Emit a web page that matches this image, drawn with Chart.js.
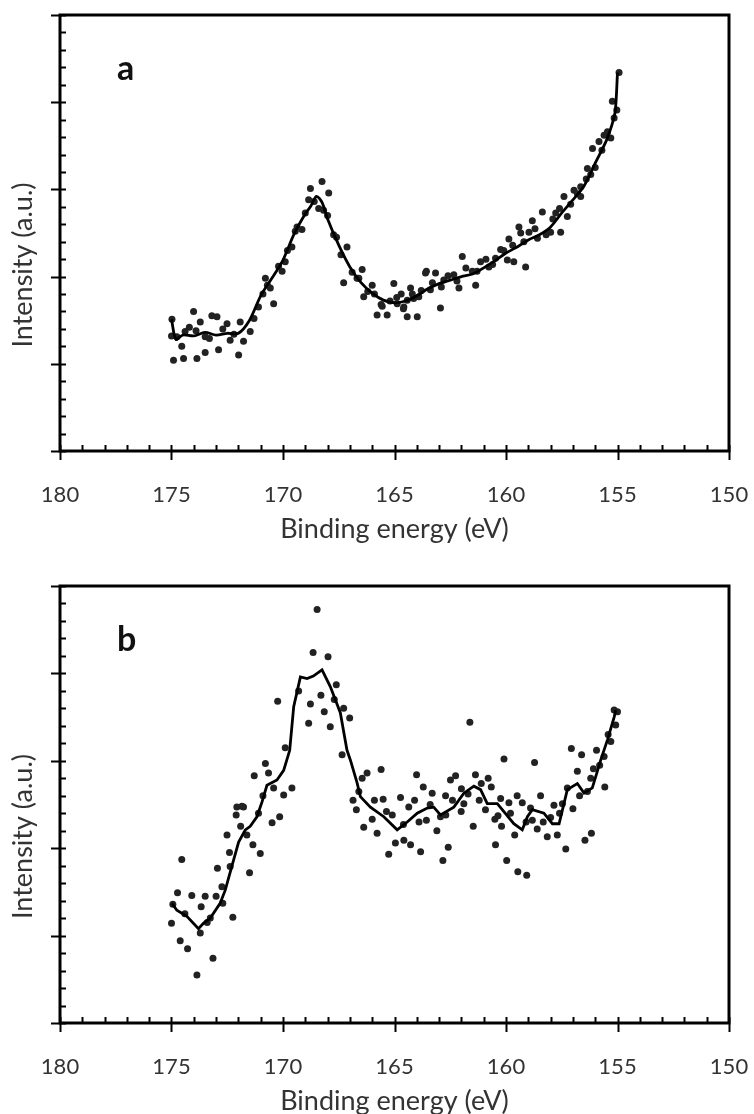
<!DOCTYPE html>
<html><head><meta charset="utf-8">
<script src="https://cdn.jsdelivr.net/npm/chart.js@4.4.0/dist/chart.umd.min.js"></script>
<style>
html,body{margin:0;padding:0;background:#fff;width:754px;height:1114px;overflow:hidden}
.panel{position:absolute;left:0;width:754px;height:557px}
</style></head><body>
<div class="panel" style="top:0"><canvas id="ca" width="754" height="557"></canvas></div>
<div class="panel" style="top:557px"><canvas id="cb" width="754" height="557"></canvas></div>
<script>
// ---- data ----
const xMin = 150, xMax = 180;
const panelLabels = ['a', 'b'];
const yTitle = 'Intensity (a.u.)';
const xTitle = 'Binding energy (eV)';

// panel a: fitted line
const aLineE = [175.0,174.8,174.5,174.0,173.5,173.0,172.5,172.0,171.5,171.0,170.5,170.0,169.5,169.0,168.75,168.5,168.25,168.0,167.5,167.0,166.5,166.0,165.5,165.0,164.5,164.0,163.5,163.0,162.5,162.0,161.5,161.0,160.5,160.0,159.5,159.0,158.5,158.0,157.5,157.0,156.5,156.0,155.5,155.25,155.1,155.0];
const aLineI = [1.51,1.28,1.33,1.32,1.36,1.33,1.35,1.35,1.50,1.78,1.98,2.19,2.49,2.72,2.81,2.92,2.85,2.66,2.36,2.11,1.93,1.81,1.73,1.70,1.72,1.78,1.86,1.92,1.96,2.00,2.03,2.10,2.18,2.27,2.34,2.42,2.48,2.57,2.73,2.88,3.04,3.30,3.56,3.74,3.90,4.34];
// panel a: measured points
const aPtsE = [174.98,174.01,173.71,173.19,172.96,172.51,171.92,174.76,174.39,173.49,172.37,171.77,174.54,174.91,174.46,173.86,173.49,172.89,171.99,171.47,171.10,170.79,170.42,170.57,170.04,169.90,169.60,169.37,169.15,168.85,168.77,168.25,167.95,168.40,168.18,167.73,167.13,167.28,166.45,166.68,166.00,166.38,165.78,165.33,165.03,164.28,164.43,163.98,163.61,164.88,164.58,164.14,154.93,155.23,155.03,155.30,155.60,155.83,156.12,156.35,156.20,156.65,156.95,156.65,157.40,157.25,157.55,157.77,158.37,158.00,158.82,158.59,158.97,159.42,159.34,159.87,160.24,160.47,159.65,159.12,159.94,161.96,161.14,160.77,161.51,161.36,162.34,162.11,162.79,163.16,163.57,163.39,163.91,164.43,162.94,164.70,165.55,
  171.3,170.9,170.7,170.2,169.8,169.45,169.0,168.6,168.0,167.6,167.4,166.9,166.6,166.2,165.9,165.6,165.2,164.9,164.6,164.2,163.8,163.3,162.9,162.6,162.2,161.8,161.3,160.9,160.6,160.1,159.7,159.2,158.7,158.2,157.9,157.6,157.1,156.8,156.4,156.0,155.7,155.45,155.15,173.9,173.3,172.7,172.2,174.2,175.0];
const aPtsI = [1.51,1.60,1.48,1.55,1.54,1.46,1.48,1.31,1.37,1.31,1.27,1.26,1.20,1.04,1.06,1.06,1.13,1.16,1.10,1.37,1.65,1.98,1.69,1.87,2.06,2.17,2.34,2.57,2.54,2.88,3.01,3.09,2.96,2.78,2.76,2.48,2.34,1.93,2.08,1.98,1.90,1.77,1.56,1.56,1.92,1.87,1.54,1.54,2.04,1.69,1.65,1.75,4.34,4.01,3.91,3.59,3.62,3.55,3.47,3.24,3.17,3.03,2.99,2.92,2.92,2.69,2.51,2.73,2.74,2.51,2.64,2.44,2.51,2.57,2.50,2.43,2.31,2.21,2.17,2.11,2.19,2.23,2.17,2.11,2.06,1.90,2.02,1.87,1.96,2.04,2.06,1.85,1.77,1.73,1.64,1.80,1.66,
  1.52,1.80,1.90,2.12,2.30,2.52,2.73,2.86,2.70,2.45,2.25,2.05,1.98,1.83,1.80,1.68,1.72,1.76,1.63,1.80,1.84,1.93,1.88,2.01,1.95,2.10,2.06,2.20,2.14,2.30,2.36,2.40,2.55,2.48,2.66,2.78,2.83,2.95,3.12,3.25,3.45,3.66,3.82,1.38,1.29,1.40,1.34,1.42,1.32];

// panel b: fitted line
const bLineE = [174.98,174.76,174.31,173.79,173.57,173.26,172.82,172.59,172.22,171.99,171.69,171.47,171.17,170.94,170.72,170.27,169.97,169.70,169.52,169.22,168.92,168.64,168.25,167.88,167.43,167.13,166.98,166.68,166.53,166.08,165.48,164.88,164.43,163.98,163.53,163.24,162.94,162.34,161.89,161.44,161.14,160.84,160.39,159.65,159.27,159.04,158.82,158.30,157.92,157.62,157.25,156.80,156.50,156.13,155.75,155.45,155.15,155.08];
const bLineI = [1.37,1.29,1.22,1.08,1.14,1.20,1.37,1.52,1.86,2.07,2.21,2.25,2.36,2.53,2.72,2.78,2.89,3.12,3.62,3.96,3.94,3.97,4.04,3.85,3.55,3.12,3.01,2.75,2.59,2.47,2.36,2.21,2.30,2.40,2.46,2.47,2.38,2.47,2.63,2.71,2.67,2.51,2.51,2.28,2.21,2.36,2.44,2.40,2.28,2.28,2.67,2.74,2.63,2.69,3.01,3.24,3.50,3.58];
// panel b: measured points
const bPtsE = [168.47,168.65,167.98,167.61,170.24,168.77,168.85,168.15,167.88,167.28,167.01,167.35,169.90,170.79,171.29,170.65,170.42,169.97,169.60,172.07,171.77,172.10,170.15,170.49,166.23,165.60,166.45,164.01,163.71,166.86,166.71,165.51,164.73,164.36,166.00,166.38,165.36,163.57,174.54,174.73,174.94,175.00,174.09,173.49,173.67,173.71,174.61,174.28,173.14,173.86,172.94,172.51,172.37,172.74,172.70,172.25,173.26,171.84,171.62,171.35,171.02,171.50,165.78,165.26,164.96,164.58,164.28,163.83,162.59,162.83,161.47,160.47,161.62,160.09,158.72,157.07,156.61,155.94,156.80,156.08,155.57,155.15,155.00,155.08,155.42,155.30,163.31,162.71,162.49,162.26,161.37,161.11,160.66,160.24,159.87,159.27,158.45,157.85,157.47,157.25,156.35,162.94,162.01,161.89,160.92,160.36,159.61,158.82,158.33,158.15,157.70,159.97,159.47,159.07,157.32,156.46,156.17,
  165.9,165.1,164.6,164.1,163.9,163.4,163.1,162.7,162.4,162.0,161.7,161.2,160.8,160.5,160.2,159.8,159.5,159.1,158.9,158.6,158.0,157.6,157.0,156.7,156.2,155.8,155.6,170.9,171.1,171.9,172.4,173.0,173.4,174.4,169.3,168.3,167.7,166.6];
const bPtsI = [4.73,4.24,4.19,3.87,3.68,3.65,3.43,3.56,3.39,3.60,3.49,3.07,3.15,2.97,2.83,2.86,2.69,2.61,2.69,2.47,2.47,2.38,2.36,2.29,2.86,2.90,2.80,2.84,2.70,2.55,2.44,2.56,2.58,2.47,2.33,2.24,2.42,2.32,1.87,1.49,1.36,1.14,1.46,1.45,1.33,1.03,0.94,0.85,0.74,0.55,1.77,2.15,1.79,1.56,1.37,1.21,1.20,2.48,2.15,2.04,1.94,1.72,2.17,1.93,2.06,2.09,2.04,1.96,2.01,1.86,2.25,2.04,3.44,3.02,2.98,3.14,3.07,3.12,2.88,2.91,2.70,3.58,3.56,3.41,3.30,3.22,2.63,2.60,2.78,2.83,2.84,2.74,2.70,2.57,2.52,2.52,2.60,2.49,2.51,2.69,2.65,2.36,2.42,2.51,2.44,2.37,2.15,2.32,2.30,2.13,2.15,1.86,1.73,1.69,1.99,2.09,2.17,
  2.55,2.38,2.27,2.55,2.30,2.50,2.20,2.38,2.55,2.68,2.62,2.55,2.80,2.33,2.25,2.40,2.60,2.30,2.46,2.22,2.35,2.40,2.45,2.60,2.80,2.95,3.05,2.60,2.40,2.25,1.95,1.45,1.15,1.25,3.80,3.75,3.70,2.65];

// ---- drawing ----
const FONT = 'Lato, "Open Sans", sans-serif';
const toXY = (E, I) => E.map((e, i) => ({x: e, y: I[i]}));

const framePlugin = {
  id: 'frame',
  afterDraw(chart, args, opts) {
    const {ctx, chartArea: {left, right, top, bottom}, scales: {x, y}} = chart;
    ctx.save();
    ctx.strokeStyle = '#000';
    ctx.lineWidth = 3;
    ctx.strokeRect(left, top, right - left, bottom - top);
    ctx.lineWidth = 2;
    for (let k = 0; k <= 25; k++) {
      const py = Math.round(y.getPixelForValue(k * 0.2)) + 0.5;
      const major = k % 5 === 0;
      ctx.beginPath();
      ctx.moveTo(major ? left - 9 : left, py);
      ctx.lineTo(left + 6, py);
      ctx.stroke();
    }
    for (let e = xMin; e <= xMax; e++) {
      const px = Math.round(x.getPixelForValue(e)) + 0.5;
      const major = e % 5 === 0;
      ctx.beginPath();
      ctx.moveTo(px, major ? bottom + 9 : bottom);
      ctx.lineTo(px, bottom - 6);
      ctx.stroke();
    }
    // y title
    ctx.fillStyle = '#333';
    ctx.font = '27px ' + FONT;
    ctx.textAlign = 'center';
    ctx.textBaseline = 'middle';
    ctx.translate(23, (top + bottom) / 2 + 32);
    ctx.rotate(-Math.PI / 2);
    ctx.fillText(yTitle, 0, 0);
    ctx.setTransform(1, 0, 0, 1, 0, 0);
    // panel label
    ctx.fillStyle = '#111';
    ctx.font = 'bold 34px ' + FONT;
    ctx.textAlign = 'left';
    ctx.textBaseline = 'alphabetic';
    ctx.fillText(opts.label, left + 57, top + 65);
    ctx.restore();
  }
};

function makeChart(id, lineE, lineI, ptsE, ptsI, label, areaTop, xAxisHeight, titlePad) {
  return new Chart(document.getElementById(id), {
    type: 'scatter',
    data: {
      datasets: [
        {data: toXY(lineE, lineI), showLine: true, borderColor: '#000', borderWidth: 2.8,
         pointRadius: 0, tension: label === 'a' ? 0.3 : 0, fill: false},
        {data: toXY(ptsE, ptsI), showLine: false, pointRadius: 3.5, pointBackgroundColor: '#222',
         pointBorderWidth: 0, pointBorderColor: '#222'}
      ]
    },
    options: {
      responsive: false, animation: false, devicePixelRatio: 1,
      layout: {padding: {top: areaTop, right: 25, left: 0, bottom: 0}},
      plugins: {legend: {display: false}, tooltip: {enabled: false}, frame: {label}},
      scales: {
        x: {
          type: 'linear', min: xMin, max: xMax, reverse: true,
          grid: {display: false}, border: {display: false},
          ticks: {stepSize: 5, color: '#333', font: {family: FONT, size: 22}, padding: 23, maxRotation: 0},
          title: {display: true, text: xTitle, color: '#333', font: {family: FONT, size: 27, lineHeight: 0.9}, padding: {top: 0, bottom: titlePad}},
          afterFit: s => { s.height = xAxisHeight; s.paddingLeft = 0; s.paddingRight = 0; }
        },
        y: {
          type: 'linear', min: 0, max: 5,
          grid: {display: false}, border: {display: false},
          ticks: {display: false},
          afterFit: s => { s.width = 60; s.paddingTop = 0; s.paddingBottom = 0; }
        }
      }
    },
    plugins: [framePlugin]
  });
}

makeChart('ca', aLineE, aLineI, aPtsE, aPtsI, panelLabels[0], 15, 106, 16);
makeChart('cb', bLineE, bLineI, bPtsE, bPtsI, panelLabels[1], 29, 91, 1);
</script>
</body></html>
